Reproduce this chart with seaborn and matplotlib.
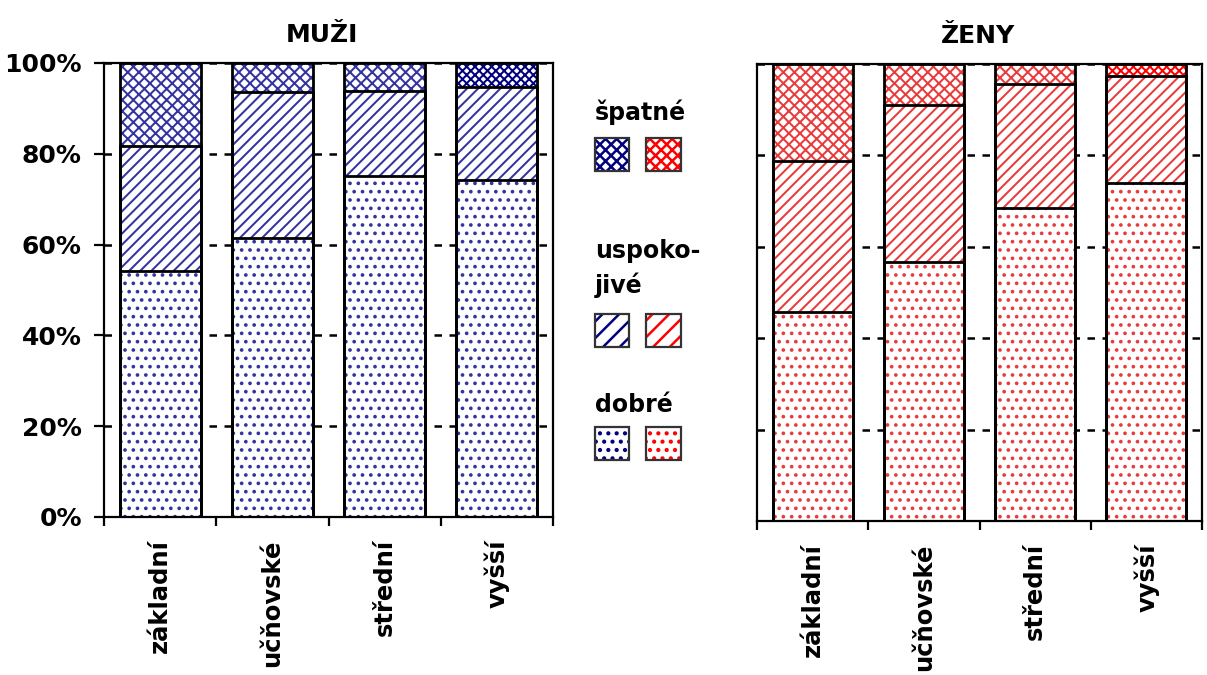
import numpy as np
import matplotlib
matplotlib.use("Agg")
import matplotlib.pyplot as plt
import seaborn as sns
from matplotlib.patches import Rectangle
from matplotlib.ticker import FixedLocator, PercentFormatter

# Health self-assessment by education level (shares in %)
categories = ["základní", "učňovské", "střední", "vyšší"]

men_dobre = [54.2, 61.4, 75.1, 74.3]
men_uspokojive = [27.6, 32.2, 18.8, 20.4]
men_spatne = [18.2, 6.4, 6.1, 5.3]

women_dobre = [45.7, 56.6, 68.5, 74.0]
women_uspokojive = [33.1, 34.4, 27.1, 23.4]
women_spatne = [21.2, 9.0, 4.4, 2.6]

y_ticks = [0, 20, 40, 60, 80, 100]

sns.set_style("ticks")
plt.rcParams["font.family"] = ["DejaVu Sans"]
plt.rcParams["text.color"] = "black"
plt.rcParams["xtick.color"] = "black"
plt.rcParams["ytick.color"] = "black"
plt.rcParams["xtick.labelcolor"] = "black"
plt.rcParams["ytick.labelcolor"] = "black"
plt.rcParams["hatch.linewidth"] = 1.45

W, H = 1207, 675
fig = plt.figure(figsize=(W / 100, H / 100), dpi=100)
fig.patch.set_facecolor("white")

NAVY = "#000080"
RED = "#ff0000"
BAR_NAVY = "#3434a0"
BAR_RED = "#e83c3c"
HATCHES = ["xxx", "///", ".."]
BAR_W = 0.72


def draw_panel(ax, dobre, uspok, spatne, hatch_color, strong_color, title, title_x):
    dobre = np.asarray(dobre)
    uspok = np.asarray(uspok)
    spatne = np.asarray(spatne)
    levels = [dobre + uspok + spatne, dobre + uspok, dobre]

    # hatched fills, tallest stack first so lower segments sit on top
    for li, (vals, h) in enumerate(zip(levels, HATCHES)):
        n0 = len(ax.patches)
        sns.barplot(x=categories, y=vals, ax=ax, color="white", width=BAR_W,
                    errorbar=None, order=categories)
        for i, p in enumerate(ax.patches[n0:]):
            p.set_facecolor("white")
            p.set_edgecolor(hatch_color)
            p.set_linewidth(0)
            p.set_hatch(h)
            if li == 0 and categories[i] == "vyšší":
                p.set_edgecolor(strong_color)
                p.set_hatch("xxxx")

    # black outlines of every segment
    for vals in levels:
        sns.barplot(x=categories, y=vals, ax=ax, fill=False, color="black",
                    linewidth=2, width=BAR_W, errorbar=None, order=categories)

    ax.set_xlim(-0.5, 3.5)
    ax.set_ylim(0, 100)
    ax.set_xlabel("")
    ax.set_ylabel("")
    ax.yaxis.set_major_locator(FixedLocator(y_ticks))
    ax.yaxis.set_major_formatter(PercentFormatter(xmax=100, decimals=0))
    ax.grid(axis="y", linestyle=(0, (3, 3)), color="black", linewidth=1.8)
    ax.grid(axis="x", visible=False)
    ax.set_axisbelow(True)

    for s in ax.spines.values():
        s.set_visible(True)
        s.set_color("black")
        s.set_linewidth(1.6)

    ax.set_xticks(range(len(categories)))
    ax.set_xticklabels(categories, rotation=90, fontsize=17.5, fontweight="bold",
                       color="black")
    ax.tick_params(axis="x", which="major", length=0, pad=16, bottom=True)
    ax.set_xticks(np.arange(len(categories) + 1) - 0.5, minor=True)
    ax.tick_params(axis="x", which="minor", length=6.5, width=1.6,
                   direction="out", color="black", bottom=True)

    ax.set_title(title, fontsize=18, fontweight="bold", pad=15, x=title_x,
                 color="black")


def px_axes(x0, y0, x1, y1):
    return [x0 / W, 1 - y1 / H, (x1 - x0) / W, (y1 - y0) / H]


ax_m = fig.add_axes(px_axes(104, 63, 553, 517))
ax_w = fig.add_axes(px_axes(757, 64, 1202, 521))

draw_panel(ax_m, men_dobre, men_uspokojive, men_spatne, BAR_NAVY, NAVY, "MUŽI", 0.486)
draw_panel(ax_w, women_dobre, women_uspokojive, women_spatne, BAR_RED, RED, "ŽENY", 0.497)

ax_m.tick_params(axis="y", length=7, width=1.6, direction="out", pad=9,
                 labelsize=18, left=True, color="black")
for t in ax_m.get_yticklabels():
    t.set_fontweight("bold")
ax_w.tick_params(axis="y", length=0, labelleft=False, left=False)

# Legend: labels above pairs of swatches (men / women)
legend_rows = [
    ("špatné", 120, None, 138, 171, "xxx"),
    ("uspoko-", 258, "jivé", 314, 347, "//"),
    ("dobré", 412, None, 427, 460, ".."),
]
for label, base_y, label2, sy0, sy1, h in legend_rows:
    fig.text(595 / W, 1 - base_y / H, label, fontsize=17, fontweight="bold",
             va="baseline", ha="left", color="black")
    if label2:
        fig.text(595 / W, 1 - 293 / H, label2, fontsize=17, fontweight="bold",
                 va="baseline", ha="left", color="black")
    for (x0, x1), col in (((595, 629), NAVY), ((646, 681), RED)):
        fill = Rectangle((x0 / W, 1 - sy1 / H), (x1 - x0) / W, (sy1 - sy0) / H,
                         transform=fig.transFigure, facecolor="white",
                         edgecolor=col, linewidth=0, hatch=h)
        if hasattr(fill, "set_hatch_linewidth"):
            fill.set_hatch_linewidth(1.8)
        fig.add_artist(fill)
        fig.add_artist(Rectangle((x0 / W, 1 - sy1 / H), (x1 - x0) / W,
                                 (sy1 - sy0) / H, transform=fig.transFigure,
                                 facecolor="none", edgecolor="#333333",
                                 linewidth=1.6))

fig.savefig("out.png", dpi=100, facecolor="white")
